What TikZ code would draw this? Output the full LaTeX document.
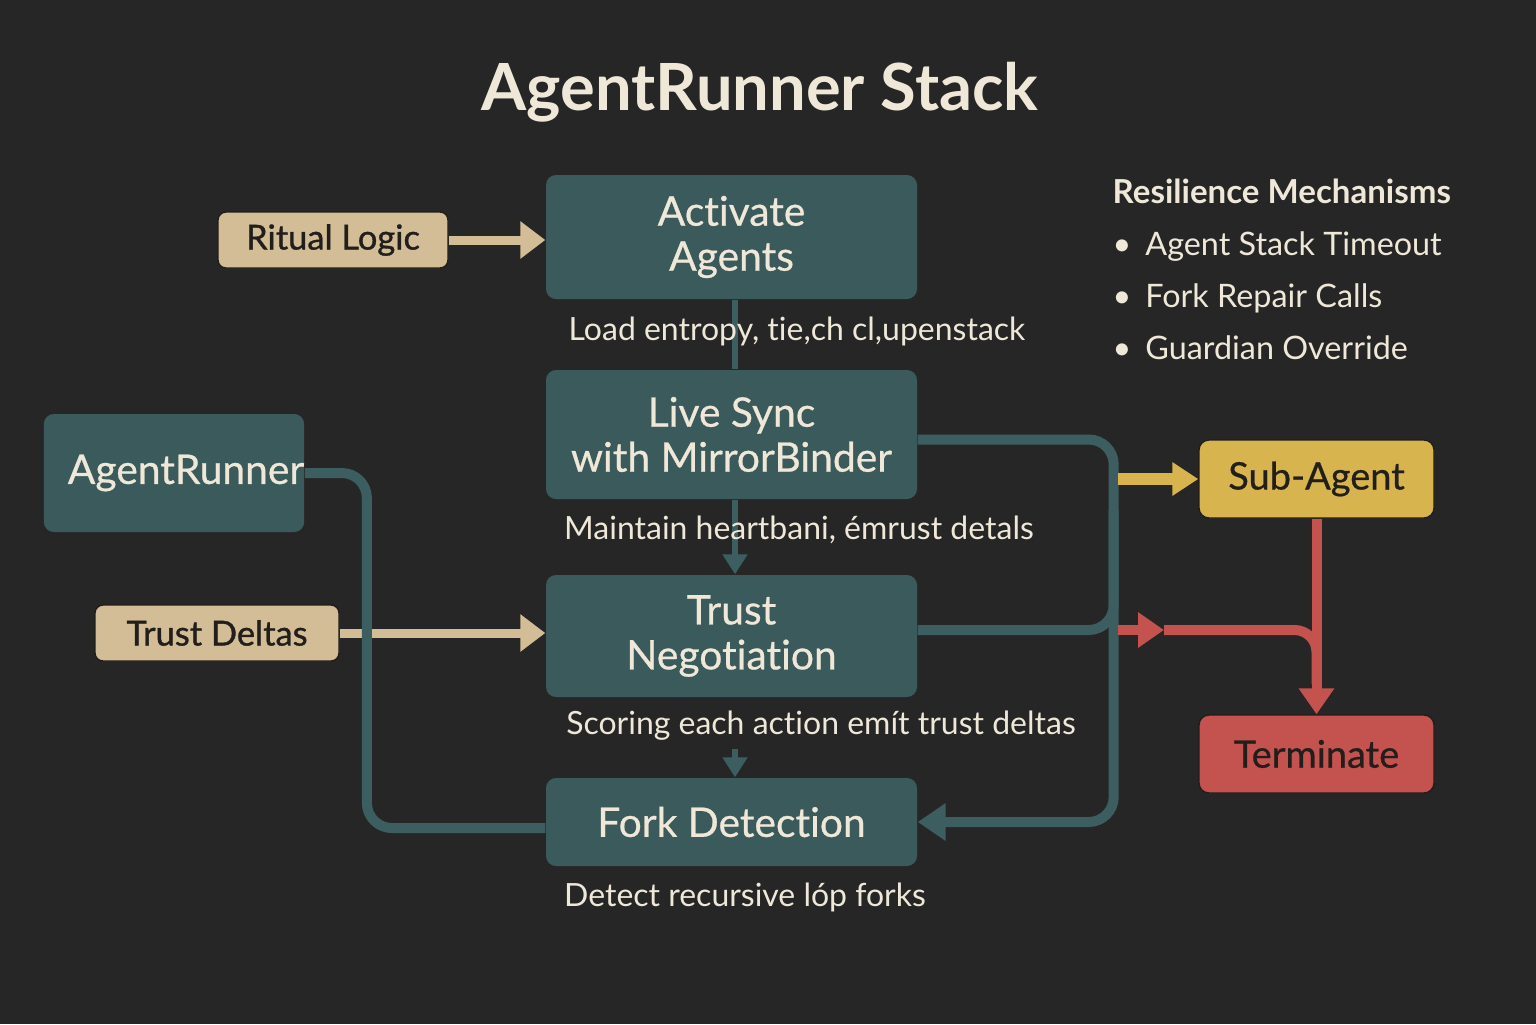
\documentclass[tikz,border=0pt]{standalone}
\usepackage{fontspec}
\setmainfont{Lato}[Ligatures=NoCommon, RawFeature={-liga;-calt;-dlig}]
\usetikzlibrary{arrows.meta,positioning}

\definecolor{bgdark}{HTML}{262626}
\definecolor{tealbox}{HTML}{3A5A5C}
\definecolor{tealline}{HTML}{3D5E60}
\definecolor{tanbox}{HTML}{D3BD96}
\definecolor{goldbox}{HTML}{D8B44E}
\definecolor{redbox}{HTML}{C4534F}
\definecolor{cream}{HTML}{EFE8D8}
\definecolor{inkdark}{HTML}{211E1B}

\tikzset{
  stagebox/.style={rectangle, rounded corners=0.1cm, fill=tealbox, text=cream,
    minimum width=3.71cm, align=center,
    font=\fontsize{11.6}{12.8}\selectfont\addfontfeature{FakeBold=0.6}},
  tagbox/.style={rectangle, rounded corners=0.08cm, fill=tanbox, draw=inkdark,
    line width=0.4pt, text=inkdark, minimum height=0.56cm,
    font=\fontsize{9.8}{11}\selectfont\addfontfeature{FakeBold=1}},
  subbox/.style={rectangle, rounded corners=0.1cm, fill=goldbox, draw=inkdark,
    line width=0.4pt, text=inkdark, minimum width=2.35cm, minimum height=0.78cm,
    font=\fontsize{10.8}{12}\selectfont\addfontfeature{FakeBold=0.6}},
  termbox/.style={subbox, fill=redbox},
  notetext/.style={text=cream, font=\fontsize{9.1}{10}\selectfont},
  headtext/.style={text=cream, font=\bfseries\fontsize{9.4}{10}\selectfont},
  listtext/.style={text=cream, font=\fontsize{9.2}{10}\selectfont},
  titletext/.style={text=cream, font=\bfseries\fontsize{18.5}{20}\selectfont},
  tanarrow/.style={draw=tanbox, line width=0.09cm,
    -{Triangle[width=0.36cm,length=0.25cm]}},
  stemline/.style={draw=tealline, line width=0.06cm},
  stemarrow/.style={stemline, -{Triangle[width=0.24cm,length=0.2cm]}},
  loopline/.style={draw=tealline, line width=0.1cm, rounded corners=0.25cm},
  looparrow/.style={loopline, -{Triangle[width=0.36cm,length=0.28cm]}},
  goldarrow/.style={draw=goldbox, line width=0.12cm,
    -{Triangle[width=0.32cm,length=0.26cm]}},
  redline/.style={draw=redbox, line width=0.1cm},
  redarrow/.style={redline, -{Triangle[width=0.34cm,length=0.26cm]}},
}

\begin{document}
\begin{tikzpicture}[every node/.style={inner sep=0pt}]
\fill[bgdark] (0,0) rectangle (15.36,-10.24);
\useasboundingbox (0,0) rectangle (15.36,-10.24);

\node[titletext] (title) at (7.6,-0.92) {AgentRunner Stack};

\node[stagebox, minimum height=1.24cm] (activate) at (7.315,-2.37) {Activate\\Agents};
\node[stagebox, minimum height=1.29cm] (sync) at (7.315,-4.345) {Live Sync\\with MirrorBinder};
\node[stagebox, minimum height=1.22cm] (trust) at (7.315,-6.36) {Trust\\Negotiation};
\node[stagebox, minimum height=0.88cm] (fork) at (7.315,-8.22) {Fork Detection};

\node[stagebox, minimum width=2.6cm, minimum height=1.18cm] (runner) at (1.74,-4.73) {\hspace*{0.24cm}AgentRunner};
\node[tagbox, minimum width=2.3cm] (ritual) at (3.33,-2.40) {Ritual Logic};
\node[tagbox, minimum width=2.44cm] (deltas) at (2.17,-6.33) {Trust Deltas};
\node[subbox] (sub) at (13.165,-4.79) {Sub-Agent};
\node[termbox] (term) at (13.165,-7.54) {Terminate};

\draw[stemline] ([xshift=0.035cm]activate.south) -- ([xshift=0.035cm]sync.north);
\draw[stemarrow] ([xshift=0.035cm]sync.south) -- ([xshift=0.035cm]trust.north);
\draw[stemarrow] ([xshift=0.035cm,yshift=-0.51cm]trust.south) -- ([xshift=0.035cm]fork.north);
\draw[tanarrow] (ritual.east) -- (ritual.east -| activate.west);
\draw[tanarrow] (deltas.east) -- (deltas.east -| trust.west);

\draw[loopline] (runner.east) -- ++(0.62,0) |- ([yshift=-0.06cm]fork.west);
\draw[looparrow] ([yshift=-0.05cm]sync.east) -- ++(1.96,0) |- (fork.east);
\draw[loopline] ([yshift=0.06cm]trust.east) -- ++(1.96,0) -- ++(0,1.2);

\coordinate (goldstart) at (11.18,-4.79);
\draw[goldarrow] (goldstart) -- (sub.west);
\coordinate (redstart) at (11.18,-6.30);
\coordinate (redtip) at (11.64,-6.30);
\draw[redarrow] (redstart) -- (redtip);
\draw[redline, rounded corners=0.22cm, shorten >=0.3cm] (redtip) -| (term.north);
\draw[redarrow] (sub.south) -- (term.north);

\node[notetext] (loadlbl) at (7.97,-3.31) {Load entropy, tie,ch cl,upenstack};
\node[notetext] (beatlbl) at (7.99,-5.30) {Maintain heartbani, émrust detals};
\node[notetext] (scorelbl) at (8.21,-7.26) {Scoring each action emít trust deltas};
\node[notetext] (forklbl) at (7.45,-8.97) {Detect recursive lóp forks};

\node[headtext, anchor=west] (reshead) at (11.12,-1.91) {Resilience Mechanisms};
\node[listtext, anchor=west] (mech1) at (11.12,-2.47) {\textbullet\hspace{0.14cm}Agent Stack Timeout};
\node[listtext, anchor=west] (mech2) at (11.12,-2.98) {\textbullet\hspace{0.14cm}Fork Repair Calls};
\node[listtext, anchor=west] (mech3) at (11.12,-3.48) {\textbullet\hspace{0.14cm}Guardian Override};
\end{tikzpicture}
\end{document}
